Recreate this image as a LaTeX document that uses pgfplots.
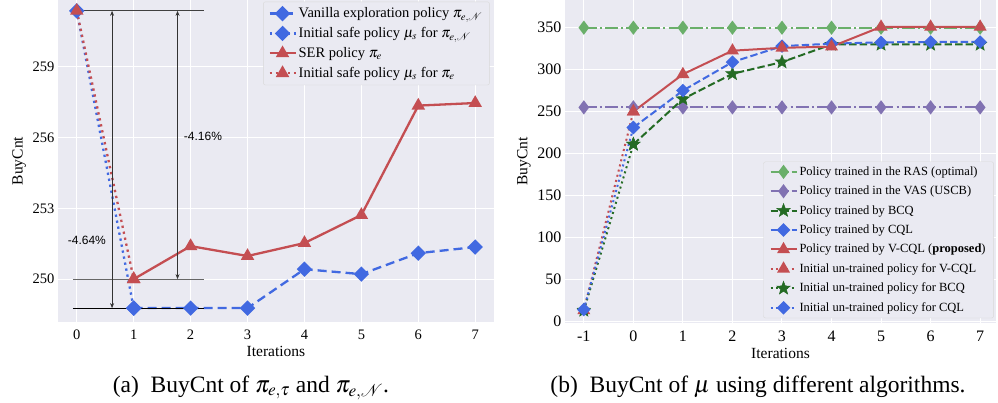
\documentclass[border=0pt]{standalone}
\usepackage{pgfplots}
\pgfplotsset{compat=1.18}
\usepackage{mathptmx}
\usepackage{fontspec}
\setmainfont{Liberation Serif}
\newfontfamily\sansf{Liberation Sans}
\usetikzlibrary{arrows.meta}
\definecolor{bg}{HTML}{EAEAF2}
\definecolor{cblue}{HTML}{4169E1}
\definecolor{cred}{HTML}{C44E52}
\definecolor{cgreenL}{HTML}{6AAF6A}
\definecolor{cgreenD}{HTML}{246B24}
\definecolor{cpurple}{HTML}{8172B2}
\pgfdeclareplotmark{fstar}{%
  \pgfpathmoveto{\pgfpointpolar{90}{\pgfplotmarksize}}%
  \pgfpathlineto{\pgfpointpolar{126}{0.42\pgfplotmarksize}}%
  \pgfpathlineto{\pgfpointpolar{162}{\pgfplotmarksize}}%
  \pgfpathlineto{\pgfpointpolar{198}{0.42\pgfplotmarksize}}%
  \pgfpathlineto{\pgfpointpolar{234}{\pgfplotmarksize}}%
  \pgfpathlineto{\pgfpointpolar{270}{0.42\pgfplotmarksize}}%
  \pgfpathlineto{\pgfpointpolar{306}{\pgfplotmarksize}}%
  \pgfpathlineto{\pgfpointpolar{342}{0.42\pgfplotmarksize}}%
  \pgfpathlineto{\pgfpointpolar{18}{\pgfplotmarksize}}%
  \pgfpathlineto{\pgfpointpolar{54}{0.42\pgfplotmarksize}}%
  \pgfpathclose
  \pgfusepathqfillstroke}
\pgfplotsset{
  sea/.style={
    scale only axis,
    axis background/.style={fill=bg},
    grid=major, major grid style={white, line width=1pt},
    axis line style={draw=none}, tick style={draw=none},
    /pgf/number format/assume math mode=true,
    label style={font=\fontsize{15.5}{17}\selectfont},
    xticklabel style={yshift=-4pt},
    legend cell align=left,
    legend style={fill=bg, draw=black!15, rounded corners=2pt, row sep=3.6pt, inner ysep=3pt},
    legend image code/.code={\draw[mark repeat=2,mark phase=2,##1] plot coordinates {(0pt,0pt)(13pt,0pt)(26pt,0pt)};},
  },
}
\begin{document}
\begin{tikzpicture}
\useasboundingbox (0pt,0pt) rectangle (998pt,-402pt);
% ---------------- left panel ----------------
\begin{axis}[sea,
  at={(58pt,-322pt)}, anchor=south west, width=436pt, height=322pt,
  xmin=-0.33, xmax=7.33, ymin=248.18, ymax=261.84,
  xtick={0,...,7}, ytick={250,253,256,259},
  tick label style={font=\fontsize{14.5}{16}\selectfont},
  xlabel=Iterations, ylabel=BuyCnt,
  legend style={at={(0.99,0.995)}, anchor=north east, font=\fontsize{14.5}{16}\selectfont, row sep=4.2pt, inner ysep=4pt, inner xsep=5pt},
]
\addplot[cblue, line width=2.3pt, dash pattern=on 9pt off 5pt, mark=square*, mark size=4.3pt, mark options={solid, rotate=45}]
  coordinates {(1,248.77)(2,248.77)(3,248.77)(4,250.42)(5,250.21)(6,251.10)(7,251.36)};
\addlegendentry{Vanilla exploration policy $\pi_{e,\mathcal{N}}$}
\addplot[cblue, line width=2.3pt, dash pattern=on 2.3pt off 3.8pt, mark=square*, mark size=4.3pt, mark options={solid, rotate=45}]
  coordinates {(0,261.38)(1,248.77)};
\addlegendentry{Initial safe policy $\mu_s$ for $\pi_{e,\mathcal{N}}$}
\addplot[cred, line width=2.3pt, mark=triangle*, mark size=5.5pt, mark options={solid}]
  coordinates {(1,250.00)(2,251.40)(3,250.98)(4,251.53)(5,252.72)(6,257.36)(7,257.47)};
\addlegendentry{SER policy $\pi_e$}
\addplot[cred, line width=2.3pt, dash pattern=on 2.3pt off 3.8pt, mark=triangle*, mark size=5.5pt, mark options={solid}]
  coordinates {(0,261.38)(1,250.00)};
\addlegendentry{Initial safe policy $\mu_s$ for $\pi_e$}
% annotations
\draw[black!75, line width=0.8pt] (axis cs:0,261.38) -- (axis cs:2.23,261.38);
\draw[black!60, line width=0.8pt] (axis cs:-0.07,250) -- (axis cs:2.23,250);
\draw[black, line width=0.8pt] (axis cs:-0.07,248.77) -- (axis cs:2.23,248.77);
\draw[black!80, line width=0.7pt, {Stealth[length=5pt,width=4pt]}-{Stealth[length=5pt,width=4pt]}] (axis cs:0.62,261.38) -- (axis cs:0.62,248.77);
\draw[black!80, line width=0.7pt, {Stealth[length=5pt,width=4pt]}-{Stealth[length=5pt,width=4pt]}] (axis cs:1.77,261.38) -- (axis cs:1.77,250);
\node[anchor=west, inner sep=0pt, font=\sansf\fontsize{12}{14}\selectfont] at (axis cs:1.88,256.06) {-4.16\%};
\node[anchor=west, inner sep=0pt, font=\sansf\fontsize{12}{14}\selectfont] at (axis cs:-0.16,251.65) {-4.64\%};
\end{axis}
% ---------------- right panel ----------------
\begin{axis}[sea,
  at={(565pt,-323pt)}, anchor=south west, width=431pt, height=323pt,
  xmin=-1.38, xmax=7.32, ymin=-2, ymax=383,
  xtick={-1,0,...,7}, ytick={0,50,...,350},
  tick label style={font=\fontsize{16}{18}\selectfont},
  xlabel=Iterations, ylabel=BuyCnt,
  legend style={at={(0.995,0.015)}, anchor=south east, font=\fontsize{12.5}{14}\selectfont, row sep=5.2pt, inner xsep=6pt},
]
\addplot[cgreenL, line width=2pt, dash pattern=on 12.8pt off 3.2pt on 2pt off 3.2pt, mark=diamond*, mark size=5.5pt, mark options={solid}]
  coordinates {(-1,350)(0,350)(1,350)(2,350)(3,350)(4,350)(5,350)(6,350)(7,350)};
\addlegendentry{Policy trained in the RAS (optimal)}
\addplot[cpurple, line width=2pt, dash pattern=on 12.8pt off 3.2pt on 2pt off 3.2pt, mark=diamond*, mark size=5.5pt, mark options={solid}]
  coordinates {(-1,255)(0,255)(1,255)(2,255)(3,255)(4,255)(5,255)(6,255)(7,255)};
\addlegendentry{Policy trained in the VAS (USCB)}
\addplot[cgreenD, line width=2pt, dash pattern=on 7.4pt off 3.2pt, mark=fstar, mark size=7pt, mark options={solid, fill=cgreenD, line width=0.5pt}]
  coordinates {(0,211)(1,265)(2,295)(3,309)(4,330)(5,330)(6,330)(7,330)};
\addlegendentry{Policy trained by BCQ}
\addplot[cblue, line width=2pt, dash pattern=on 7.4pt off 3.2pt, mark=square*, mark size=3.8pt, mark options={solid, rotate=45}]
  coordinates {(0,231)(1,275)(2,309)(3,328)(4,331)(5,332.5)(6,333)(7,333)};
\addlegendentry{Policy trained by CQL}
\addplot[cred, line width=2pt, mark=triangle*, mark size=5.5pt, mark options={solid}]
  coordinates {(0,250)(1,294.5)(2,322.6)(3,326)(4,327.4)(5,351)(6,351)(7,351)};
\addlegendentry{Policy trained by V-CQL (\textbf{proposed})}
\addplot[cred, line width=2pt, dash pattern=on 2pt off 3.3pt, mark=triangle*, mark size=5.5pt, mark options={solid}]
  coordinates {(-1,13)(0,250)};
\addlegendentry{Initial un-trained policy for V-CQL}
\addplot[cgreenD, line width=2pt, dash pattern=on 2pt off 3.3pt, mark=fstar, mark size=7pt, mark options={solid, fill=cgreenD, line width=0.5pt}]
  coordinates {(-1,13)(0,211)};
\addlegendentry{Initial un-trained policy for BCQ}
\addplot[cblue, line width=2pt, dash pattern=on 2pt off 3.3pt, mark=square*, mark size=3.8pt, mark options={solid, rotate=45}]
  coordinates {(-1,14)(0,231)};
\addlegendentry{Initial un-trained policy for CQL}
\end{axis}
% captions
\node[anchor=base, font=\fontsize{23.5}{27}\selectfont] at (251pt,-392pt) {(a)~~BuyCnt of $\pi_{e,\tau}$ and $\pi_{e,\mathcal{N}}$.};
\node[anchor=base, font=\fontsize{23.5}{27}\selectfont] at (758pt,-392pt) {(b)~~BuyCnt of $\mu$ using different algorithms.};
\end{tikzpicture}
\end{document}
